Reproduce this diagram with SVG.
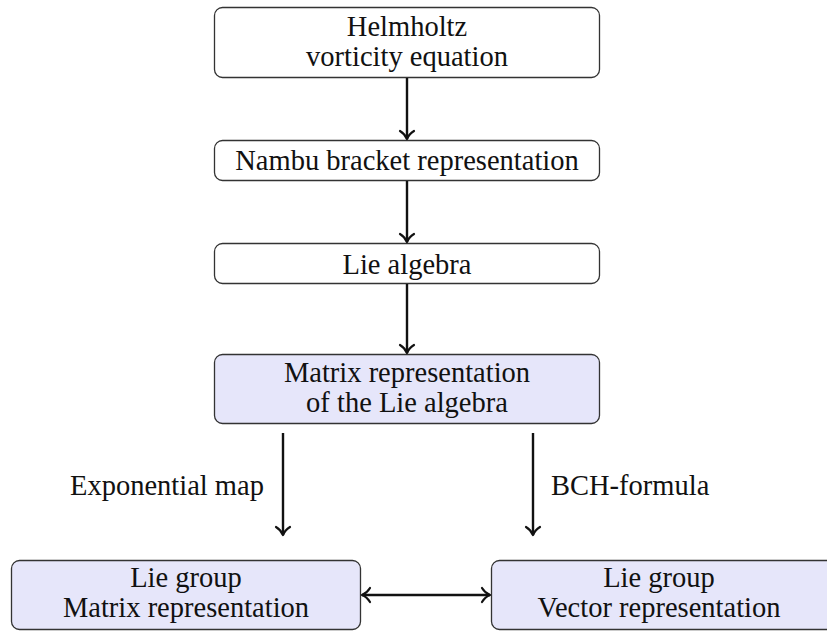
<svg xmlns="http://www.w3.org/2000/svg" width="827" height="631" viewBox="0 0 827 631">
<style>
.box{fill:#ffffff;stroke:#333;stroke-width:1.3}
.hl{fill:#e6e6fa}
text{font-family:"Liberation Serif","DejaVu Serif",serif;font-size:28.5px;fill:#111;text-anchor:middle}
.lab{text-anchor:start}
.ln{stroke:#111;stroke-width:2.4;fill:none}
.ah{stroke:#111;stroke-width:2.2;fill:none;stroke-linecap:round;stroke-linejoin:round}
</style>
<rect width="827" height="631" fill="#fff"/>
<g id="n1"><rect class="box" x="214.5" y="7.5" width="385" height="70" rx="8"/><text x="407" y="36">Helmholtz</text><text x="407" y="66">vorticity equation</text></g>
<g id="n2"><rect class="box" x="214.5" y="140.5" width="385" height="40" rx="8"/><text x="407" y="170">Nambu bracket representation</text></g>
<g id="n3"><rect class="box" x="214.5" y="243.5" width="385" height="40" rx="8"/><text x="407" y="274">Lie algebra</text></g>
<g id="n4"><rect class="box hl" x="214.5" y="354.5" width="385" height="69" rx="8"/><text x="407" y="382">Matrix representation</text><text x="407" y="412">of the Lie algebra</text></g>
<g id="n5"><rect class="box hl" x="11.5" y="560.5" width="349" height="69" rx="8"/><text x="186" y="587">Lie group</text><text x="186" y="617">Matrix representation</text></g>
<g id="n6"><rect class="box hl" x="491.5" y="560.5" width="349" height="69" rx="8"/><text x="659" y="587">Lie group</text><text x="659" y="617">Vector representation</text></g>
<g id="connectors">
<line class="ln" x1="407" y1="78" x2="407" y2="139"/><path class="ah" d="M400,131 Q405,134 407,139 Q409,134 414,131"/>
<line class="ln" x1="407" y1="181" x2="407" y2="242"/><path class="ah" d="M400,234 Q405,237 407,242 Q409,237 414,234"/>
<line class="ln" x1="407" y1="284" x2="407" y2="353"/><path class="ah" d="M400,345 Q405,348 407,353 Q409,348 414,345"/>
<line class="ln" x1="283" y1="433" x2="283" y2="535"/><path class="ah" d="M276,527 Q281,530 283,535 Q285,530 290,527"/>
<line class="ln" x1="533" y1="433" x2="533" y2="535"/><path class="ah" d="M526,527 Q531,530 533,535 Q535,530 540,527"/>
<line class="ln" x1="362" y1="595" x2="490" y2="595"/>
<path class="ah" d="M370,588 Q367,593 362,595 Q367,597 370,602"/>
<path class="ah" d="M482,588 Q485,593 490,595 Q485,597 482,602"/>
<text class="lab" x="70" y="495">Exponential map</text>
<text class="lab" x="551" y="495">BCH-formula</text>
</g>
</svg>
